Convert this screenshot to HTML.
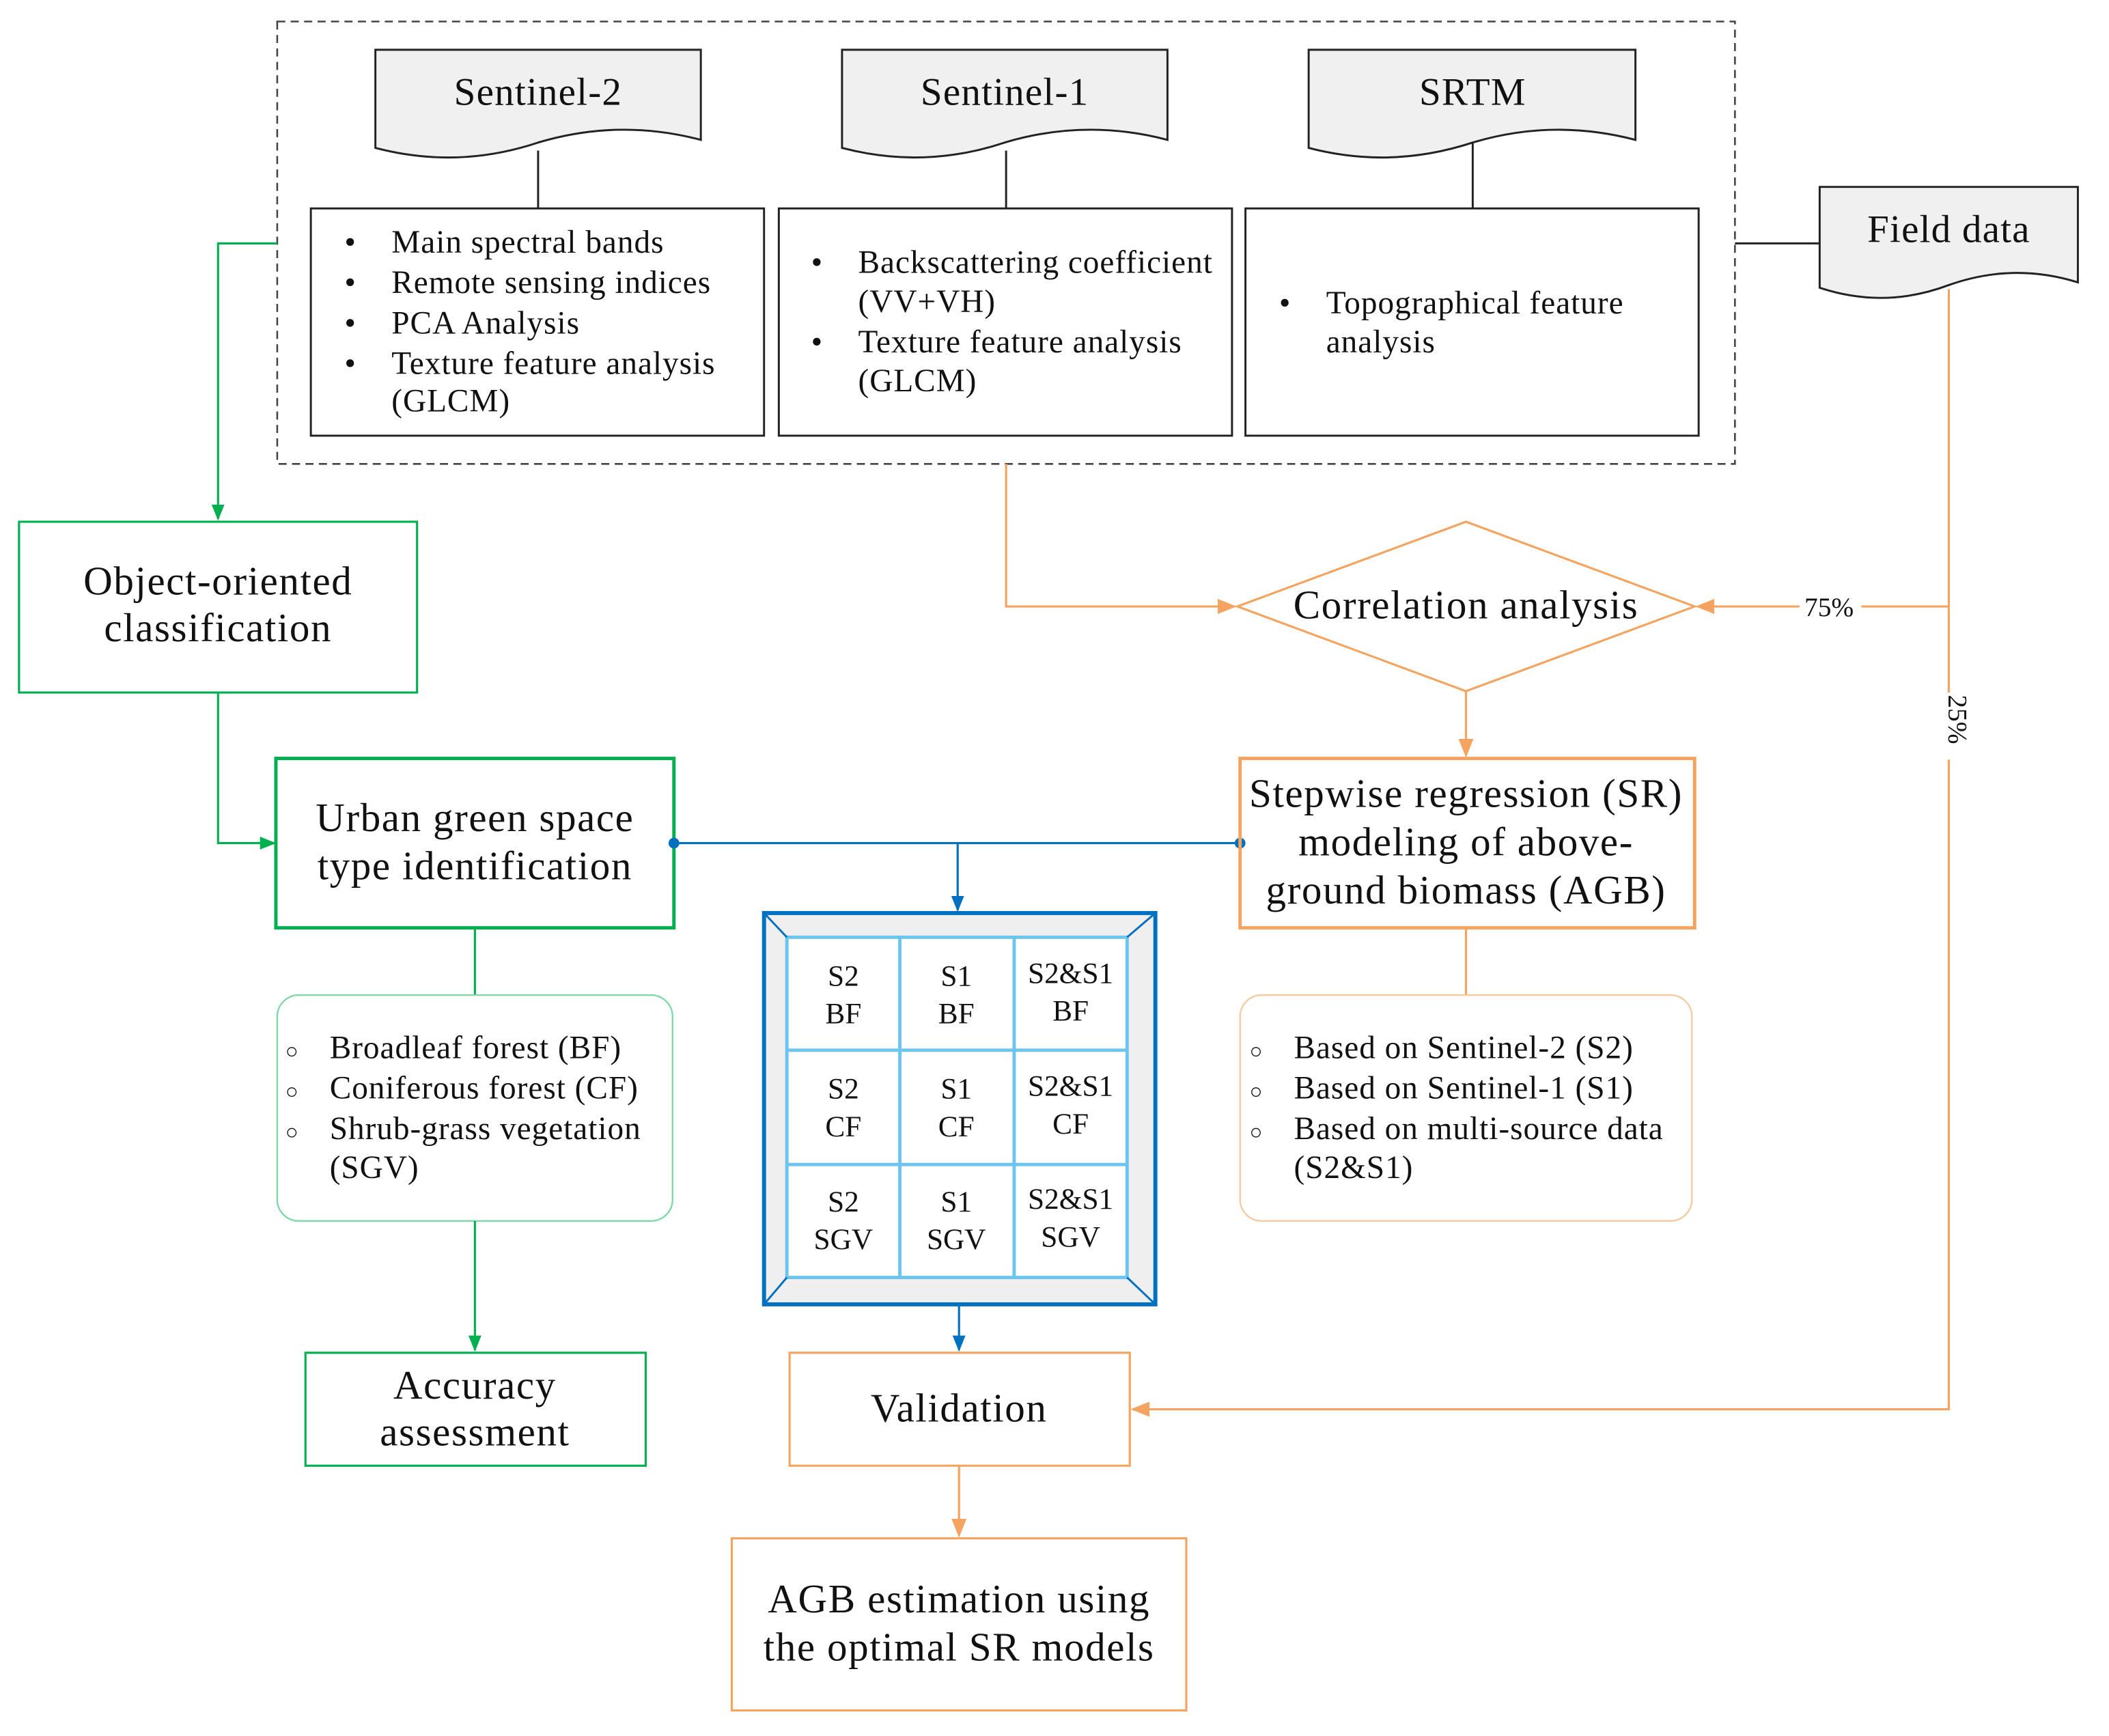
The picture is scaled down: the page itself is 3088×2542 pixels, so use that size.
<!DOCTYPE html>
<html><head><meta charset="utf-8"><style>html,body{margin:0;padding:0;background:#fff}svg{display:block}text{font-family:"Liberation Serif",serif;fill:#111}</style></head>
<body>
<svg width="3088" height="2542" viewBox="0 0 1568 1291" xmlns="http://www.w3.org/2000/svg">
<defs>
<marker id="ag" viewBox="0 0 10 10" refX="9" refY="5" markerWidth="12" markerHeight="12" markerUnits="userSpaceOnUse" orient="auto"><path d="M0,1 L10,5 L0,9 Z" fill="#00b050"/></marker>
<marker id="ab" viewBox="0 0 10 10" refX="9" refY="5" markerWidth="12" markerHeight="12" markerUnits="userSpaceOnUse" orient="auto"><path d="M0,1 L10,5 L0,9 Z" fill="#0070c0"/></marker>
<marker id="ao" viewBox="0 0 10 10" refX="9" refY="5" markerWidth="14" markerHeight="14" markerUnits="userSpaceOnUse" orient="auto"><path d="M0,1 L10,5 L0,9 Z" fill="#f4a460"/></marker>
</defs>
<rect x="206" y="16" width="1084" height="329" fill="none" stroke="#444" stroke-width="1.3" stroke-dasharray="6,4"/>
<g fill="#f0f0f0" stroke="#222" stroke-width="1.5">
<path d="M279,37 H521 V104 Q460,88 400,106 Q340,126 279,110 Z"/>
<path d="M626,37 H868 V104 Q807,88 747,106 Q687,126 626,110 Z"/>
<path d="M973,37 H1216 V104 Q1155,88 1095,106 Q1034,126 973,110 Z"/>
<path d="M1353,139 H1545 V210 Q1497,195 1449,212 Q1401,230 1353,214 Z"/>
</g>
<g font-size="29" text-anchor="middle" letter-spacing="0.6"><text x="400" y="78">Sentinel-2</text><text x="747" y="78">Sentinel-1</text><text x="1095" y="78">SRTM</text><text x="1449" y="180">Field data</text></g>
<g stroke="#222" stroke-width="1.5" fill="#fff">
<line x1="400" y1="112" x2="400" y2="155"/><line x1="748" y1="112" x2="748" y2="155"/><line x1="1095" y1="106" x2="1095" y2="155"/>
<line x1="1290" y1="181" x2="1353" y2="181"/>
<rect x="231" y="155" width="337" height="169"/><rect x="579" y="155" width="337" height="169"/><rect x="926" y="155" width="337" height="169"/>
</g>
<g font-size="24" letter-spacing="0.5">
<text x="256" y="188">•</text><text x="291" y="188">Main spectral bands</text>
<text x="256" y="218">•</text><text x="291" y="218">Remote sensing indices</text>
<text x="256" y="248">•</text><text x="291" y="248">PCA Analysis</text>
<text x="256" y="278">•</text><text x="291" y="278">Texture feature analysis</text>
<text x="291" y="306">(GLCM)</text>
<text x="603" y="203">•</text><text x="638" y="203">Backscattering coefficient</text>
<text x="638" y="232">(VV+VH)</text>
<text x="603" y="262">•</text><text x="638" y="262">Texture feature analysis</text>
<text x="638" y="291">(GLCM)</text>
<text x="951" y="233">•</text><text x="986" y="233">Topographical feature</text>
<text x="986" y="262">analysis</text>
</g>
<!-- green -->
<g stroke="#00b050" stroke-width="1.6" fill="none">
<polyline points="206,181 162,181 162,386" marker-end="url(#ag)"/>
<rect x="14" y="388" width="296" height="127"/>
<polyline points="162,515 162,627 204,627" marker-end="url(#ag)"/>
<rect x="205" y="564" width="296" height="126" stroke-width="2.5"/>
<line x1="353" y1="690" x2="353" y2="740"/>
<rect x="206" y="740" width="294" height="168" rx="16" stroke="#7fd8a6" stroke-width="1.2"/>
<line x1="353" y1="908" x2="353" y2="1004" marker-end="url(#ag)"/>
<rect x="227" y="1006" width="253" height="84"/>
</g>
<g font-size="30" text-anchor="middle" letter-spacing="0.8">
<text x="162" y="442">Object-oriented</text><text x="162" y="477">classification</text>
<text x="353" y="618">Urban green space</text><text x="353" y="654">type identification</text>
<text x="353" y="1040">Accuracy</text><text x="353" y="1075">assessment</text>
</g>
<g font-size="24" letter-spacing="0.5">
<text x="212" y="787" font-size="16">○</text><text x="245" y="787">Broadleaf forest (BF)</text>
<text x="212" y="817" font-size="16">○</text><text x="245" y="817">Coniferous forest (CF)</text>
<text x="212" y="847" font-size="16">○</text><text x="245" y="847">Shrub-grass vegetation</text>
<text x="245" y="876">(SGV)</text>
</g>
<!-- blue -->
<g stroke="#0070c0" stroke-width="1.6" fill="none">
<line x1="501" y1="627" x2="922" y2="627"/>
<line x1="712" y1="627" x2="712" y2="677" marker-end="url(#ab)"/>
<line x1="713" y1="970" x2="713" y2="1004" marker-end="url(#ab)"/>
</g>
<circle cx="501" cy="627" r="4" fill="#0070c0"/><circle cx="922" cy="627" r="4" fill="#0070c0"/>
<rect x="568" y="679" width="291" height="291" fill="#efefef" stroke="#0070c0" stroke-width="3"/>
<rect x="585" y="697" width="253" height="253" fill="#fff" stroke="#6cc4ef" stroke-width="2.5"/>
<g stroke="#0070c0" stroke-width="1.5"><line x1="568" y1="679" x2="585" y2="697"/><line x1="859" y1="679" x2="838" y2="697"/><line x1="568" y1="970" x2="585" y2="950"/><line x1="859" y1="970" x2="838" y2="950"/></g>
<g stroke="#6cc4ef" stroke-width="2.5"><line x1="669" y1="697" x2="669" y2="950"/><line x1="754" y1="697" x2="754" y2="950"/><line x1="585" y1="781" x2="838" y2="781"/><line x1="585" y1="866" x2="838" y2="866"/></g>
<g font-size="22" text-anchor="middle">
<text x="627" y="733">S2</text><text x="627" y="761">BF</text><text x="711" y="733">S1</text><text x="711" y="761">BF</text><text x="796" y="731">S2&amp;S1</text><text x="796" y="759">BF</text>
<text x="627" y="817">S2</text><text x="627" y="845">CF</text><text x="711" y="817">S1</text><text x="711" y="845">CF</text><text x="796" y="815">S2&amp;S1</text><text x="796" y="843">CF</text>
<text x="627" y="901">S2</text><text x="627" y="929">SGV</text><text x="711" y="901">S1</text><text x="711" y="929">SGV</text><text x="796" y="899">S2&amp;S1</text><text x="796" y="927">SGV</text>
</g>
<!-- orange -->
<g stroke="#f4a460" stroke-width="1.6" fill="none">
<polyline points="748,345 748,451 918,451" marker-end="url(#ao)"/>
<path d="M920,451 L1090,388 L1260,451 L1090,514 Z"/>
<line x1="1090" y1="514" x2="1090" y2="562" marker-end="url(#ao)"/>
<rect x="922" y="564" width="338" height="126" stroke-width="2.5"/>
<line x1="1090" y1="690" x2="1090" y2="740"/>
<rect x="922" y="740" width="336" height="168" rx="16" stroke="#f8c9a0" stroke-width="1.2"/>
<polyline points="1449,215 1449,1048 842,1048" marker-end="url(#ao)"/>
<line x1="1449" y1="451" x2="1384" y2="451"/>
<line x1="1338" y1="451" x2="1262" y2="451" marker-end="url(#ao)"/>
<rect x="587" y="1006" width="253" height="84"/>
<line x1="713" y1="1090" x2="713" y2="1142" marker-end="url(#ao)"/>
<rect x="544" y="1144" width="338" height="128"/>
</g>
<rect x="1440" y="515" width="18" height="50" fill="#fff"/>
<text x="1360" y="458" font-size="20" text-anchor="middle">75%</text>
<text x="1443" y="541" font-size="20" text-anchor="middle" transform="rotate(90 1449 541)">25%</text>
<g font-size="30" text-anchor="middle" letter-spacing="0.8">
<text x="1090" y="460">Correlation analysis</text>
<text x="1090" y="600">Stepwise regression (SR)</text><text x="1090" y="636">modeling of above-</text><text x="1090" y="672">ground biomass (AGB)</text>
<text x="713" y="1057">Validation</text>
<text x="713" y="1199">AGB estimation using</text><text x="713" y="1235">the optimal SR models</text>
</g>
<g font-size="24" letter-spacing="0.5">
<text x="929" y="787" font-size="16">○</text><text x="962" y="787">Based on Sentinel-2 (S2)</text>
<text x="929" y="817" font-size="16">○</text><text x="962" y="817">Based on Sentinel-1 (S1)</text>
<text x="929" y="847" font-size="16">○</text><text x="962" y="847">Based on multi-source data</text>
<text x="962" y="876">(S2&amp;S1)</text>
</g>
</svg>
</body></html>
